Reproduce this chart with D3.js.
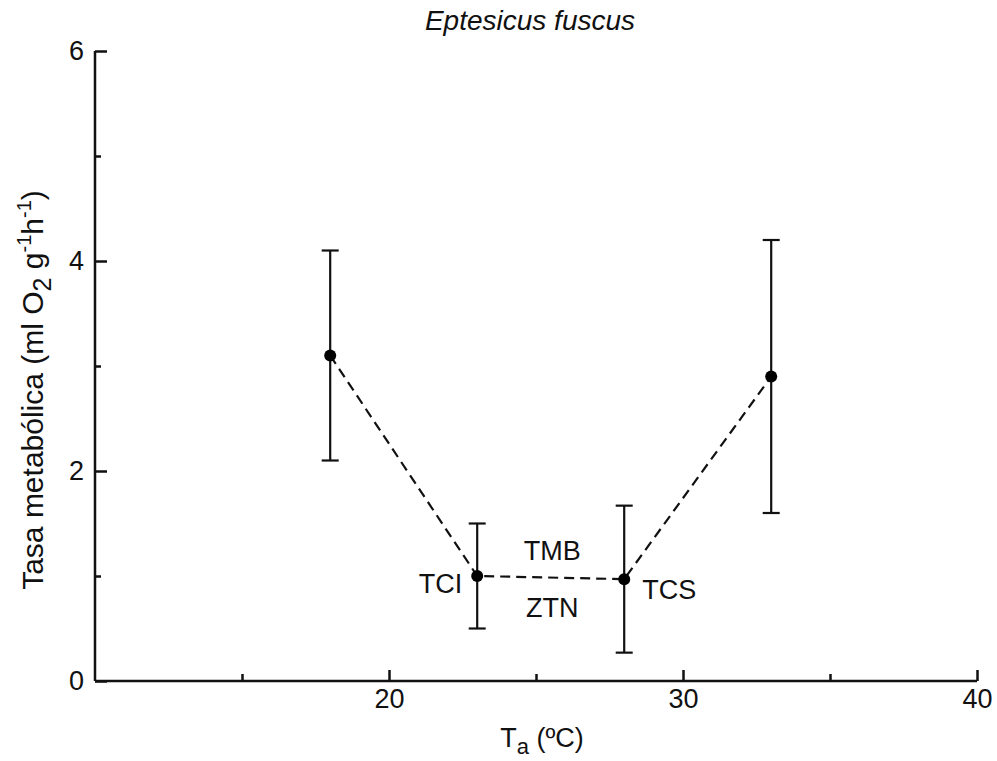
<!DOCTYPE html>
<html>
<head>
<meta charset="utf-8">
<style>
  body { margin: 0; background: #fff; }
  svg { display: block; font-family: "Liberation Sans", Arial, sans-serif; }
</style>
</head>
<body>
<script src="https://cdn.jsdelivr.net/npm/d3@7"></script>
<script>
  const temps = [18, 23, 28, 33]
  const rates = [3.1, 1.0, 0.97, 2.9]
  const lows = [2.1, 0.5, 0.27, 1.6]
  const highs = [4.1, 1.5, 1.67, 4.2]
  const xMajor = [20, 30, 40]
  const xMinor = [15, 25, 35]
  const yMajor = [0, 2, 4, 6]
  const yMinor = [1, 3, 5]

  const width = 997
  const height = 761
  const margin = { top: 51, right: 20, bottom: 80, left: 95 }
  const fs = 27

  const data = temps.map((t, i) => ({ t, v: rates[i], lo: lows[i], hi: highs[i] }))

  const x = d3.scaleLinear().domain([10, 40]).range([margin.left, 977])
  const y = d3.scaleLinear().domain([0, 6]).range([681, margin.top])

  const svg = d3.select("body").append("svg")
    .attr("width", width)
    .attr("height", height)

  // axes, ticks point inward
  const xAxis = svg.append("g")
    .attr("transform", `translate(0, ${y(0)})`)
    .call(d3.axisTop(x).tickValues(xMajor).tickSize(11).tickFormat(d3.format("d")))
  xAxis.select(".domain").attr("d", `M${x(10)},0H${x(40)}`)
  xAxis.selectAll(".tick text").attr("y", 27).attr("dy", 0)

  svg.append("g")
    .attr("transform", `translate(0, ${y(0)})`)
    .call(d3.axisTop(x).tickValues(xMinor).tickSize(7).tickFormat(""))
    .select(".domain").remove()

  const yAxis = svg.append("g")
    .attr("transform", `translate(${x(10)}, 0)`)
    .call(d3.axisRight(y).tickValues(yMajor).tickSize(12).tickFormat(d3.format("d")))
  yAxis.select(".domain").attr("d", `M0,${y(0)}V${y(6)}`)
  yAxis.selectAll(".tick text").attr("x", -11).attr("dy", "0.3em").attr("text-anchor", "end")

  svg.append("g")
    .attr("transform", `translate(${x(10)}, 0)`)
    .call(d3.axisRight(y).tickValues(yMinor).tickSize(6).tickFormat(""))
    .select(".domain").remove()

  svg.selectAll(".domain, .tick line")
    .attr("stroke", "#111")
    .attr("stroke-width", 2.5)
  svg.selectAll(".tick text")
    .attr("fill", "#111")
    .attr("font-size", fs)
    .attr("font-family", "'Liberation Sans', Arial, sans-serif")

  // dashed connecting line
  svg.append("path")
    .datum(data)
    .attr("fill", "none")
    .attr("stroke", "#111")
    .attr("stroke-width", 2.2)
    .attr("stroke-dasharray", "10,6")
    .attr("d", d3.line().x(d => x(d.t)).y(d => y(d.v)))

  // error bars
  const bars = svg.append("g").attr("stroke", "#111").attr("stroke-width", 2.2)
  const cap = 8.5
  data.forEach(d => {
    bars.append("line").attr("x1", x(d.t)).attr("x2", x(d.t)).attr("y1", y(d.lo)).attr("y2", y(d.hi))
    bars.append("line").attr("x1", x(d.t) - cap).attr("x2", x(d.t) + cap).attr("y1", y(d.lo)).attr("y2", y(d.lo))
    bars.append("line").attr("x1", x(d.t) - cap).attr("x2", x(d.t) + cap).attr("y1", y(d.hi)).attr("y2", y(d.hi))
  })

  svg.append("g").selectAll("circle")
    .data(data)
    .enter()
    .append("circle")
    .attr("cx", d => x(d.t))
    .attr("cy", d => y(d.v))
    .attr("r", 6)
    .attr("fill", "#000")

  // annotations
  const label = (tx, ty, txt, anchor) => svg.append("text")
    .attr("x", tx).attr("y", ty)
    .attr("text-anchor", anchor)
    .attr("font-size", fs)
    .attr("fill", "#111")
    .text(txt)

  label(x(23) - 15, y(1.0) + 17, "TCI", "end")
  label(x(28) + 18, y(0.97) + 20, "TCS", "start")
  label(x(25.55), y(1.0) - 16, "TMB", "middle")
  label(x(25.55), y(1.0) + 41, "ZTN", "middle")

  // title
  svg.append("text")
    .attr("x", 530).attr("y", 30)
    .attr("text-anchor", "middle")
    .attr("font-size", 28)
    .attr("font-style", "italic")
    .attr("fill", "#111")
    .text("Eptesicus fuscus")

  // x title
  const xt = svg.append("text")
    .attr("x", 542).attr("y", 747)
    .attr("text-anchor", "middle")
    .attr("font-size", fs)
    .attr("fill", "#111")
  xt.append("tspan").text("T")
  xt.append("tspan").attr("dy", 7).attr("font-size", 22).text("a")
  xt.append("tspan").attr("dy", -7).text(" (ºC)")

  // y title
  const yt = svg.append("text")
    .attr("transform", `translate(43, 390) rotate(-90)`)
    .attr("text-anchor", "middle")
    .attr("font-size", 30)
    .attr("fill", "#111")
  yt.append("tspan").text("Tasa metabólica (ml O")
  yt.append("tspan").attr("dy", 8).attr("font-size", 25).text("2")
  yt.append("tspan").attr("dy", -8).text(" g")
  yt.append("tspan").attr("dy", -12).attr("font-size", 20).text("-1")
  yt.append("tspan").attr("dy", 12).text("h")
  yt.append("tspan").attr("dy", -12).attr("font-size", 20).text("-1")
  yt.append("tspan").attr("dy", 12).text(")")
</script>
</body>
</html>
